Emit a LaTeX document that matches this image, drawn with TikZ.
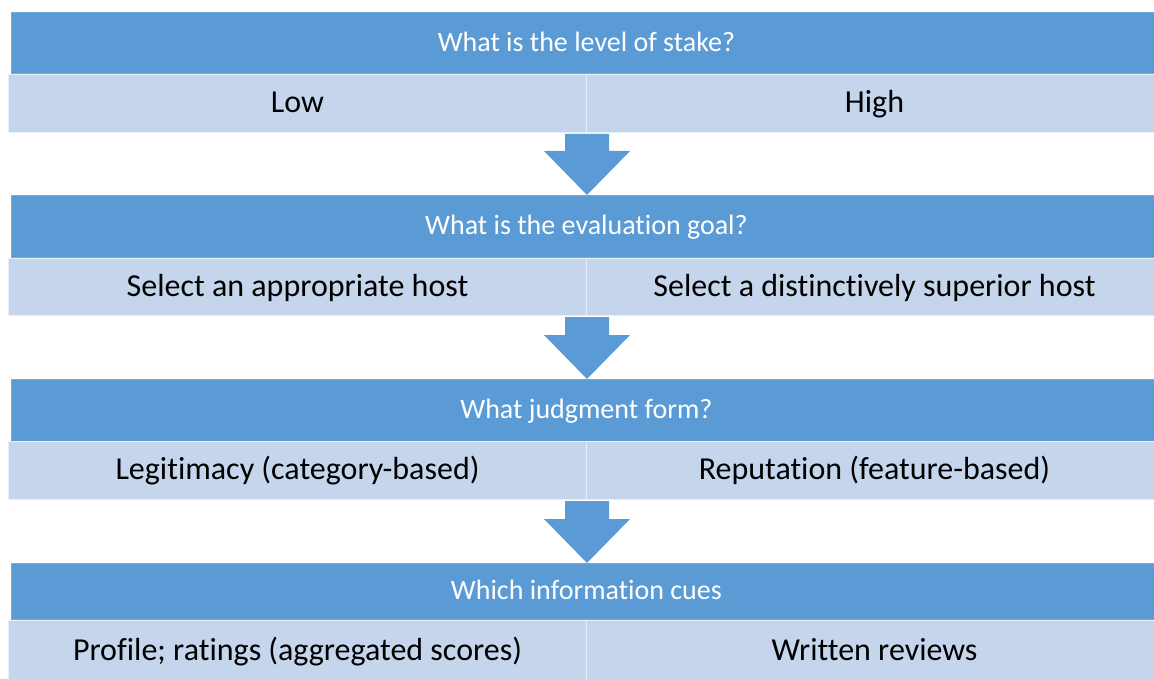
\documentclass[tikz,border=0pt]{standalone}
\usepackage{fontspec}
\setmainfont{Carlito}[RawFeature=-liga]
\usetikzlibrary{calc}
\definecolor{darkb}{HTML}{5B9BD5}
\definecolor{lightb}{HTML}{C5D6EC}
\tikzset{
  darkbox/.style={rectangle, fill=darkb, draw=darkb!85!white, line width=0.8pt, inner sep=0pt,
    anchor=north west, text=white, font=\fontsize{28}{32}\selectfont, text height=22pt, text depth=5.6pt},
  lightbox/.style={rectangle, fill=lightb, draw=lightb!40!white, line width=1pt, inner sep=0pt,
    anchor=north west, text=black, font=\fontsize{32}{36}\selectfont, text height=24pt, text depth=6pt},
  blockarrow/.style={fill=darkb, draw=none}
}
\newcommand\blkarrow[2]{%
  \fill[blockarrow] ($(#1)+(-22,0)$) -- ($(#1)+(22,0)$) -- ($(#2)+(22,-44)$) -- ($(#2)+(43,-44)$)
    -- (#2) -- ($(#2)+(-43,-44)$) -- ($(#2)+(-22,-44)$) -- cycle;}
\begin{document}
\begin{tikzpicture}[x=1pt,y=-1pt]
\useasboundingbox (0,0) rectangle (1154,679);
\clip (0,0) rectangle (1154,679);
% row 1
\node[darkbox, minimum width=1150pt, minimum height=61pt] (q1) at (11,12) {What is the level of stake?};
\node[lightbox, minimum width=578pt, minimum height=58pt] (a1) at (8,74) {Low};
\node[lightbox, minimum width=576pt, minimum height=58pt] (b1) at (586,74) {High};
% row 2
\node[darkbox, minimum width=1150pt, minimum height=62pt] (q2) at (11,195) {What is the evaluation goal?};
\node[lightbox, minimum width=578pt, minimum height=57pt] (a2) at (8,258) {Select an appropriate host};
\node[lightbox, minimum width=576pt, minimum height=57pt] (b2) at (586,258) {Select a distinctively superior host};
% row 3
\node[darkbox, minimum width=1150pt, minimum height=62pt] (q3) at (11,379) {What judgment form?};
\node[lightbox, minimum width=578pt, minimum height=58pt] (a3) at (8,441) {Legitimacy (category-based)};
\node[lightbox, minimum width=576pt, minimum height=58pt] (b3) at (586,441) {Reputation (feature-based)};
% row 4
\node[darkbox, minimum width=1150pt, minimum height=56pt] (q4) at (11,563) {Which information cues};
\node[lightbox, minimum width=578pt, minimum height=62pt] (a4) at (8,620) {Profile; ratings (aggregated scores)};
\node[lightbox, minimum width=576pt, minimum height=62pt] (b4) at (586,620) {Written reviews};
% arrows
\coordinate (s1) at ($(a1.south east)+(0,1)$);
\coordinate (t1) at (s1 |- q2.north);
\blkarrow{s1}{t1}
\coordinate (s2) at ($(a2.south east)+(0,1)$);
\coordinate (t2) at (s2 |- q3.north);
\blkarrow{s2}{t2}
\coordinate (s3) at ($(a3.south east)+(0,1)$);
\coordinate (t3) at (s3 |- q4.north);
\blkarrow{s3}{t3}
\end{tikzpicture}
\end{document}
